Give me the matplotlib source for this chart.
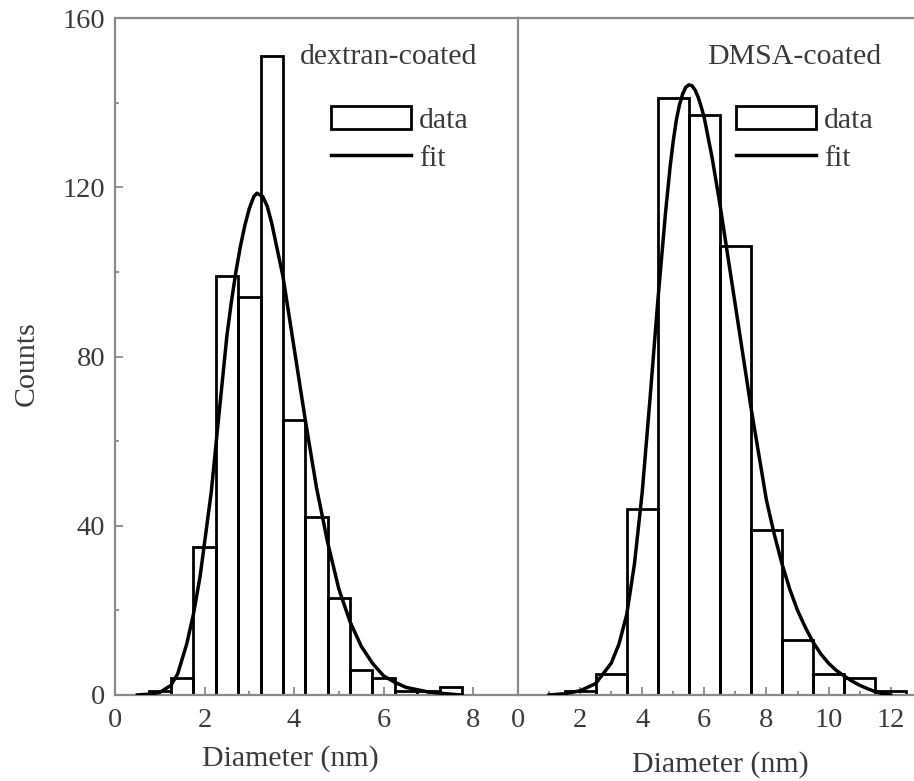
import matplotlib
matplotlib.use("Agg")
import matplotlib.pyplot as plt
from matplotlib.ticker import MultipleLocator
from matplotlib.patches import Patch
from matplotlib.lines import Line2D

# ---------------- data ----------------
# dextran-coated histogram (bin width 0.5 nm)
dex_centers = [1.0, 1.5, 2.0, 2.5, 3.0, 3.5, 4.0, 4.5, 5.0, 5.5, 6.0, 6.5, 7.0, 7.5]
dex_counts = [1, 4, 35, 99, 94, 151, 65, 42, 23, 6, 4, 1, 1, 2]
dex_width = 0.5
# dextran fit curve
dex_fit_x = [0.5, 0.75, 1.0, 1.25, 1.4, 1.6, 1.75, 1.9, 2.0, 2.15, 2.3, 2.5, 2.6,
             2.7, 2.8, 2.9, 3.0, 3.1, 3.17, 3.3, 3.4, 3.5, 3.6, 3.75, 4.0, 4.25,
             4.5, 4.75, 5.0, 5.25, 5.5, 5.75, 6.0, 6.25, 6.5, 7.0, 7.5, 7.75]
dex_fit_y = [0, 0.2, 0.6, 2.3, 5, 12, 19, 28, 36, 48, 64, 85, 93,
             100, 106, 111, 115, 117.8, 118.6, 117.8, 115.5, 111.5, 106.5, 99, 82, 65,
             49, 36, 25, 17.3, 11.5, 7.5, 4.5, 3, 1.8, 0.7, 0.2, 0]

# DMSA-coated histogram (bin width 1 nm)
dmsa_centers = [2, 3, 4, 5, 6, 7, 8, 9, 10, 11, 12]
dmsa_counts = [1, 5, 44, 141, 137, 106, 39, 13, 5, 4, 1]
dmsa_width = 1.0
dmsa_fit_x = [1.0, 1.5, 2.0, 2.5, 3.0, 3.25, 3.5, 3.75, 4.0, 4.25, 4.5, 4.75, 4.9,
              5.0, 5.1, 5.2, 5.3, 5.4, 5.5, 5.6, 5.7, 5.8, 5.9, 6.0, 6.25, 6.5,
              6.75, 7.0, 7.25, 7.5, 7.75, 8.0, 8.25, 8.5, 8.75, 9.0, 9.25, 9.5,
              9.75, 10.0, 10.25, 10.5, 10.75, 11.0, 11.25, 11.5, 11.75, 12.0]
dmsa_fit_y = [0, 0.3, 1, 2.7, 7.5, 12, 19, 31, 48, 70, 93, 114, 125,
              131, 136, 139.5, 142, 143.6, 144.2, 144, 143, 141.3, 139, 136.3, 127, 116,
              104, 92, 80, 68, 57, 46, 38, 31, 25, 20, 16, 12.5,
              9.7, 7.5, 5.8, 4.5, 3.3, 2.3, 1.5, 0.8, 0.3, 0]

dex_xticks = [0, 2, 4, 6, 8]
dmsa_xticks = [0, 2, 4, 6, 8, 10, 12]
yticks = [0, 40, 80, 120, 160]

# ---------------- style ----------------
plt.rcParams['font.family'] = ['Liberation Serif', 'DejaVu Serif']
FS = 21.5
TFS = 20.5
TXT = '#3a3a3a'
SPINE = '#8a8a8a'

fig = plt.figure(figsize=(9.14, 7.81), dpi=100)
W, H = 914, 781
axL = fig.add_axes([115 / W, (H - 695) / H, 403 / W, 677 / H])
axR = fig.add_axes([518 / W, (H - 695) / H, 396 / W, 677 / H])


def style(ax, xlim, xticks, show_y):
    ax.set_xlim(*xlim)
    ax.set_ylim(0, 160)
    ax.set_xticks(xticks)
    ax.xaxis.set_minor_locator(MultipleLocator(1))
    ax.set_yticks(yticks)
    ax.yaxis.set_minor_locator(MultipleLocator(20))
    for s in ax.spines.values():
        s.set_color(SPINE)
        s.set_linewidth(1.6)
    ax.tick_params(which='both', direction='in', color=SPINE, width=1.3,
                   labelsize=TFS, labelcolor=TXT)
    ax.tick_params(which='major', length=6)
    ax.tick_params(which='minor', length=3)
    ax.tick_params(axis='x', pad=9.5)
    ax.tick_params(axis='y', pad=7)
    if not show_y:
        ax.tick_params(axis='y', which='both', left=False, labelleft=False)


style(axL, (0, 9), dex_xticks, True)
style(axR, (0, 12.75), dmsa_xticks, False)
axL.spines['right'].set_visible(False)
axR.spines['right'].set_visible(False)

# bars
axL.bar(dex_centers, dex_counts, width=dex_width, fill=False,
        edgecolor='black', linewidth=2.0, zorder=2)
axR.bar(dmsa_centers, dmsa_counts, width=dmsa_width, fill=False,
        edgecolor='black', linewidth=2.0, zorder=2)

# fits
axL.plot(dex_fit_x, dex_fit_y, color='black', linewidth=2.5, zorder=3,
         solid_joinstyle='round')
axR.plot(dmsa_fit_x, dmsa_fit_y, color='black', linewidth=2.5, zorder=3,
         solid_joinstyle='round')

# labels
axL.set_ylabel('Counts', fontsize=FS, color=TXT)
axL.yaxis.set_label_coords(-0.186, 0.49)
axL.set_xlabel('Diameter (nm)', fontsize=FS, color=TXT)
axL.xaxis.set_label_coords(0.434, -0.074)
axR.set_xlabel('Diameter (nm)', fontsize=FS, color=TXT)
axR.xaxis.set_label_coords(0.51, -0.083)

axL.text(0.459, 0.942, 'dextran-coated', transform=axL.transAxes,
         fontsize=FS, color=TXT, ha='left', va='center')
axR.text(0.477, 0.942, 'DMSA-coated', transform=axR.transAxes,
         fontsize=FS, color=TXT, ha='left', va='center')

# legends
for ax, x0 in ((axL, 0.535), (axR, 0.550)):
    handles = [Patch(facecolor='white', edgecolor='black', linewidth=2.0),
               Line2D([0], [0], color='black', linewidth=2.5)]
    leg = ax.legend(handles, ['data', 'fit'], loc='upper left',
                    bbox_to_anchor=(x0, 0.870), frameon=False, fontsize=FS,
                    handlelength=2.7, handleheight=0.82, handletextpad=0.25,
                    labelspacing=0.33, borderpad=0, borderaxespad=0)
    for t in leg.get_texts():
        t.set_color(TXT)

fig.savefig('out.png', dpi=100)
